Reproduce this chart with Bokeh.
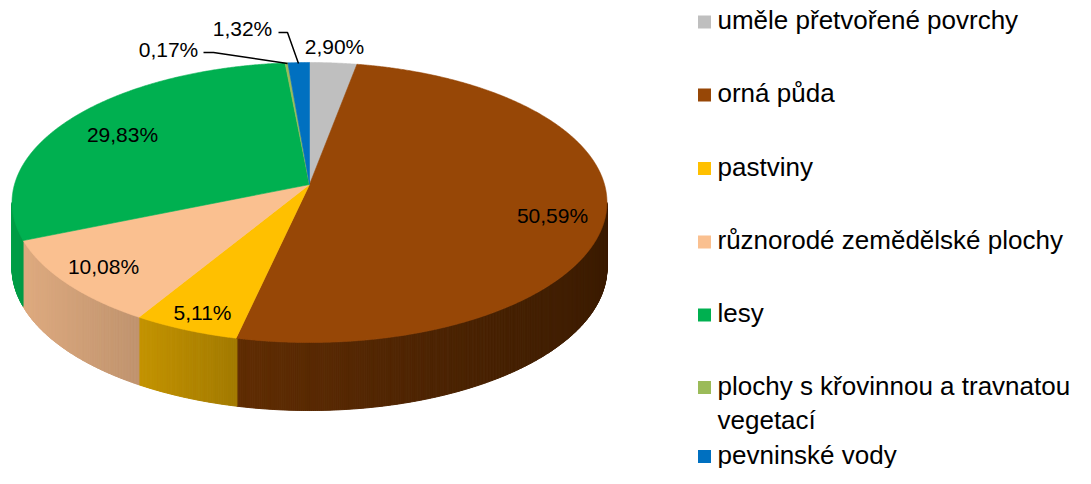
import numpy as np
import textwrap
from bokeh.plotting import figure
from bokeh.models import Range1d
from bokeh.core.properties import value
from bokeh.embed import file_html
from bokeh.resources import INLINE

# ---------------- data ----------------
categories = ["uměle přetvořené povrchy", "orná půda", "pastviny",
              "různorodé zemědělské plochy", "lesy",
              "plochy s křovinnou a travnatou vegetací", "pevninské vody"]
shares = [2.90, 50.59, 5.11, 10.08, 29.83, 0.17, 1.32]
colors = ["#BFBFBF", "#974706", "#FFC000", "#FAC090", "#00B050", "#9BBB59", "#0070C0"]

# label anchor positions (screen px) and leader lines for small slices
label_pos = [(334, 46), (552, 215), (202, 312), (103, 266), (122, 134), (168, 49), (242, 28)]
leaders = {5: [(203, 52), (213, 52), (287, 63)], 6: [(278, 32), (287, 32), (298, 63)]}

FONT = "Liberation Sans"

# ---------------- projection of the 3D pie ----------------
CX, CY = 309.0, 184.0
A, B, K = 295.0, 137.7, 0.1286


def top(theta):
    u, v = np.sin(theta), np.cos(theta)
    s = 1.0 / (1.0 + K * v)
    return CX + A * u * s, CY - B * v * s


def bottom(theta):
    x, y = top(theta)
    v = np.cos(theta)
    return x, y + 65.0 - 3.0 * v


def shade(hexc, f):
    r, g, b = int(hexc[1:3], 16), int(hexc[3:5], 16), int(hexc[5:7], 16)
    return "#%02x%02x%02x" % (int(r * f), int(g * f), int(b * f))


total = float(sum(shares))
bounds = np.concatenate([[0.0], np.cumsum(shares) / total * 2 * np.pi])

p = figure(width=1075, height=468, x_range=Range1d(0, 1075), y_range=Range1d(468, 0),
           output_backend="svg", toolbar_location=None, min_border=0)
p.axis.visible = False
p.grid.visible = False
p.outline_line_color = None
p.background_fill_color = "white"
p.border_fill_color = "white"

# ---- side (visible front part) ----
ext = np.arccos(-K)                 # angle of right silhouette
th = np.linspace(ext, 2 * np.pi - ext, 500)
sx, sy, sc = [], [], []
for i in range(len(th) - 1):
    a0, a1 = th[i], th[i + 1]
    mid = 0.5 * (a0 + a1)
    idx = int(np.searchsorted(bounds, mid) - 1)
    x0, y0 = top(a0)
    x1, y1 = top(a1)
    bx0, by0 = bottom(a0)
    bx1, by1 = bottom(a1)
    xm = 0.5 * (x0 + x1)
    f = float(np.interp(xm, [12, 137, 235, 607], [0.90, 0.77, 0.64, 0.40]))
    sx.append([x0, x1, bx1, bx0])
    sy.append([y0, y1, by1, by0])
    sc.append(shade(colors[idx], f))
p.patches(sx, sy, fill_color=sc, line_color=sc, line_width=1)

# ---- top face wedges ----
wx, wy = [], []
for i in range(len(shares)):
    n = max(3, int((bounds[i + 1] - bounds[i]) / 0.005))
    t = np.linspace(bounds[i], bounds[i + 1], n)
    x, y = top(t)
    wx.append([CX] + list(x))
    wy.append([CY] + list(y))
p.patches(wx, wy, fill_color=colors, line_color=colors, line_width=0.6)

# ---- data labels ----
labels = [("%.2f" % v).replace(".", ",") + "%" for v in shares]
p.text(x=[q[0] for q in label_pos], y=[q[1] for q in label_pos], text=labels,
       text_font=value(FONT), text_font_size="21px", text_color="black",
       text_align="center", text_baseline="middle")
for idx, pts in leaders.items():
    p.line([q[0] for q in pts], [q[1] for q in pts], line_color="black", line_width=1.5)

# ---- legend ----
leg_y = [21.5, 94.5, 168, 241.5, 314.5, 387, 456]
p.scatter(x=[704] * len(categories), y=leg_y, marker="square", size=13,
          fill_color=colors, line_color=None)
tx, ty, tt = [], [], []
for name, yy in zip(categories, leg_y):
    for j, line in enumerate(textwrap.wrap(name, 30)):
        tx.append(717)
        ty.append(yy - 2 + j * 34)
        tt.append(line)
p.text(x=tx, y=ty, text=tt, text_font=value(FONT), text_font_size="26px",
       text_color="black", text_align="left", text_baseline="middle")

open("out.html", "w").write(file_html(p, INLINE))
